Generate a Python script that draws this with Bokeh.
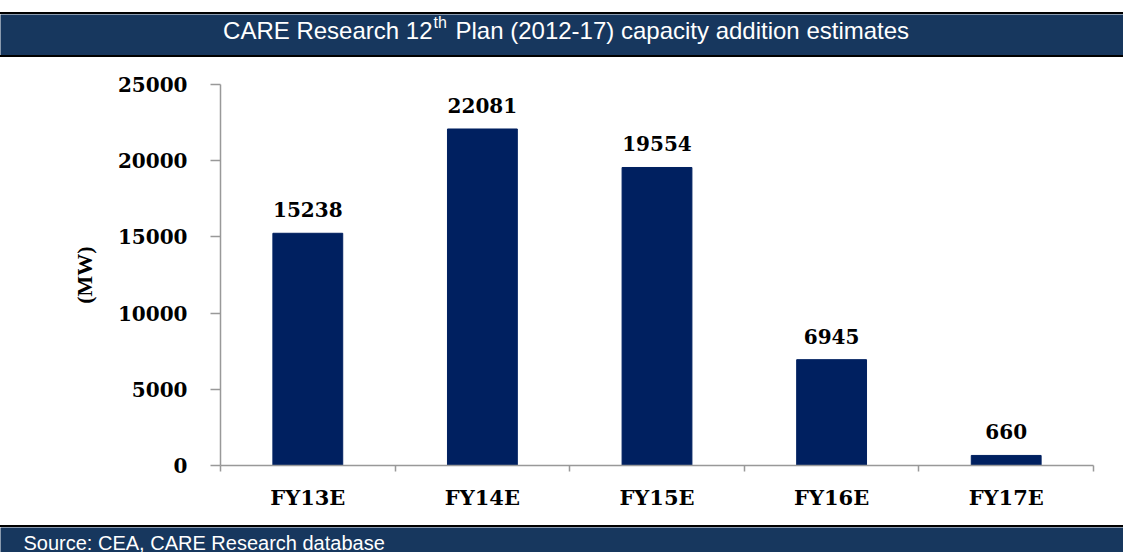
from bokeh.plotting import figure
from bokeh.models import FixedTicker, Label, Range1d, ColumnDataSource, LabelSet, Spacer
from bokeh.core.properties import value
from bokeh.layouts import column, row
from bokeh.embed import file_html
from bokeh.resources import INLINE

# ---- data ----
categories = ["FY13E", "FY14E", "FY15E", "FY16E", "FY17E"]
values = [15238, 22081, 19554, 6945, 660]
y_ticks = [0, 5000, 10000, 15000, 20000, 25000]
title_main = "CARE Research 12"
title_sup = "th"
title_rest = "Plan (2012-17) capacity addition estimates"
source_text = "Source: CEA, CARE Research database"
y_label = "(MW)"

W = 1123
BL, BR = 220, 30          # left / right borders of the plot frame
NAVY = "#17375E"
BAR = "#002060"
AXIS = "#999999"
SERIF = "DejaVu Serif"
SANS = "Liberation Sans"


def band(height):
    f = figure(width=W, height=height, x_range=Range1d(0, W), y_range=Range1d(0, height),
               x_axis_type=None, y_axis_type=None, output_backend="svg", toolbar_location=None,
               min_border_top=0, min_border_left=0, min_border_right=0, min_border_bottom=0)
    f.title.visible = False
    f.grid.visible = False
    f.outline_line_color = None
    f.background_fill_color = NAVY
    f.border_fill_color = NAVY
    return f


def rule(h, color):
    return Spacer(width=W, height=h, styles={"background-color": color})


# ---- title bar ----
TH = 41
t = band(TH)
t.add_layout(Label(x=432, y=25, text=title_main, text_align="right", text_baseline="middle",
                   text_color="white", text_font=SANS, text_font_size="24px"))
t.add_layout(Label(x=433, y=33, text=title_sup, text_align="left", text_baseline="middle",
                   text_color="white", text_font=SANS, text_font_size="16px"))
t.add_layout(Label(x=455, y=25, text=title_rest, text_align="left", text_baseline="middle",
                   text_color="white", text_font=SANS, text_font_size="24px"))

# ---- main chart ----
n = len(categories)
xs = [i + 0.5 for i in range(n)]
src = ColumnDataSource(dict(x=xs, top=values, lbl=[str(v) for v in values]))

p = figure(width=W, height=468, x_range=Range1d(0, n), y_range=Range1d(0, y_ticks[-1]),
           output_backend="svg", toolbar_location=None,
           min_border_left=BL, min_border_right=BR, min_border_top=27, min_border_bottom=60)
p.grid.visible = False
p.outline_line_color = None
p.background_fill_color = "white"

p.vbar(x="x", top="top", width=0.4, color=BAR, source=src)
p.add_layout(LabelSet(x="x", y="top", text="lbl", source=src, y_offset=16,
                      text_align="center", text_baseline="alphabetic",
                      text_font=value(SERIF), text_font_style="bold",
                      text_font_size=value("20px"), text_color="black"))

xa = p.xaxis[0]
xa.ticker = FixedTicker(ticks=xs, minor_ticks=list(range(n + 1)))
xa.major_label_overrides = {x: c for x, c in zip(xs, categories)}
xa.major_tick_out = 0
xa.major_tick_in = 0
xa.minor_tick_out = 6
xa.minor_tick_in = 0
xa.minor_tick_line_color = AXIS
xa.minor_tick_line_width = 1.5
xa.axis_line_color = AXIS
xa.axis_line_width = 1.5
xa.major_label_standoff = 13
xa.major_label_text_font = SERIF
xa.major_label_text_font_style = "bold"
xa.major_label_text_font_size = "21px"
xa.major_label_text_color = "black"

ya = p.yaxis[0]
ya.ticker = FixedTicker(ticks=y_ticks, minor_ticks=[])
ya.major_tick_out = 10
ya.major_tick_in = 0
ya.major_tick_line_color = AXIS
ya.major_tick_line_width = 1.5
ya.axis_line_color = AXIS
ya.axis_line_width = 1.5
ya.major_label_standoff = 23
ya.major_label_text_font = SERIF
ya.major_label_text_font_style = "bold"
ya.major_label_text_font_size = "20px"
ya.major_label_text_color = "black"
ya.axis_label = y_label
ya.axis_label_text_font = "Liberation Serif"
ya.axis_label_text_font_style = "bold"
ya.axis_label_text_font_size = "22px"
ya.axis_label_text_color = "black"
ya.axis_label_standoff = 18

# ---- source bar ----
SH = 25
s = band(SH)
s.add_layout(Label(x=23, y=10, text=source_text, text_align="left", text_baseline="middle",
                   text_color="white", text_font=SANS, text_font_size="20px"))

layout = column(rule(12, "white"), rule(2, "black"), row(t), rule(2, "black"), p,
                rule(2, "black"), row(s), spacing=0)
open("out.html", "w").write(file_html(layout, INLINE))
